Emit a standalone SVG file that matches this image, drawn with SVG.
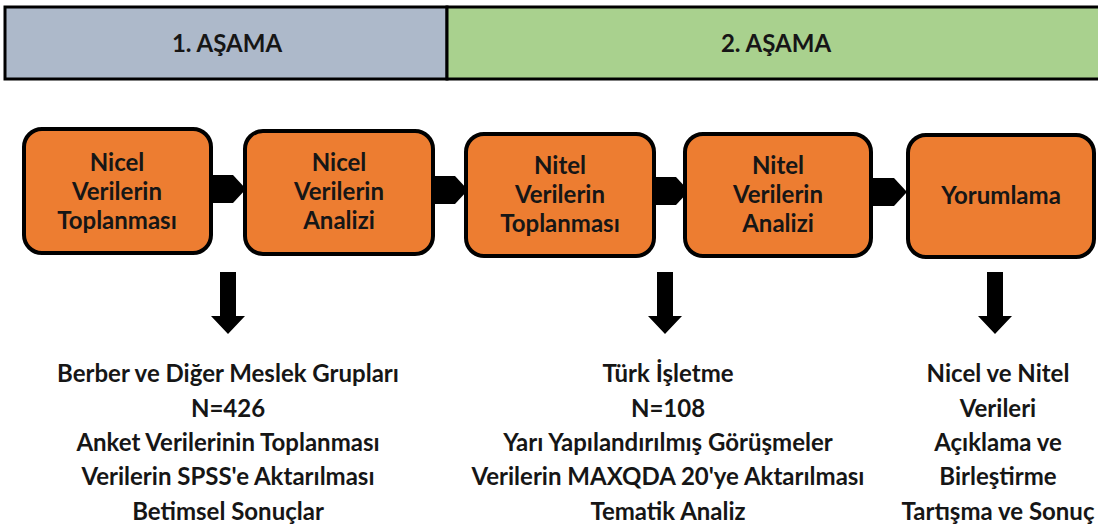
<svg xmlns="http://www.w3.org/2000/svg" width="1098" height="529" viewBox="0 0 1098 529">
<style>
  .t { font-family: Lato, "Liberation Sans", sans-serif; font-weight: bold; fill: #161616; text-anchor: middle; }
  .hdr { font-size: 24px; }
  .box { fill: #ed7d31; stroke: #000; stroke-width: 4; }
  .bt { font-size: 24px; }
  .lt { font-size: 24px; }
  .chev { fill: #000; }
  .down { fill: #000; }
</style>
<defs>
  <polygon id="chev" class="chev" points="0,0 28,0 41,14 28,28 0,28"/>
  <polygon id="down" class="down" points="-8,0 8,0 8,44 17,44 0,62 -17,44 -8,44"/>
</defs>
<rect width="1098" height="529" fill="#fff"/>
<g id="phase1">
  <rect x="5" y="7" width="442" height="72" fill="#adb9ca" stroke="#000" stroke-width="3"/>
  <text class="t hdr" x="227" y="52">1. AŞAMA</text>
</g>
<g id="phase2">
  <rect x="447" y="7" width="660" height="72" fill="#a9d18e" stroke="#000" stroke-width="3"/>
  <text class="t hdr" x="776" y="52">2. AŞAMA</text>
</g>
<g id="connectors">
  <use href="#chev" x="205" y="175"/>
  <use href="#chev" x="427" y="176"/>
  <use href="#chev" x="648" y="177"/>
  <use href="#chev" x="866" y="178"/>
  <use href="#down" x="228" y="272"/>
  <use href="#down" x="665" y="272"/>
  <use href="#down" x="995" y="272"/>
</g>
<g id="n1">
  <rect class="box" x="24" y="129" width="187" height="124" rx="18"/>
  <text class="t bt" x="117" y="171">Nicel</text>
  <text class="t bt" x="117" y="200">Verilerin</text>
  <text class="t bt" x="117" y="229">Toplanması</text>
</g>
<g id="n2">
  <rect class="box" x="245" y="131" width="188" height="123" rx="18"/>
  <text class="t bt" x="339" y="171">Nicel</text>
  <text class="t bt" x="339" y="200">Verilerin</text>
  <text class="t bt" x="339" y="229">Analizi</text>
</g>
<g id="n3">
  <rect class="box" x="466" y="134" width="188" height="122" rx="18"/>
  <text class="t bt" x="560" y="174">Nitel</text>
  <text class="t bt" x="560" y="203">Verilerin</text>
  <text class="t bt" x="560" y="232">Toplanması</text>
</g>
<g id="n4">
  <rect class="box" x="685" y="134" width="186" height="122" rx="18"/>
  <text class="t bt" x="778" y="174">Nitel</text>
  <text class="t bt" x="778" y="203">Verilerin</text>
  <text class="t bt" x="778" y="232">Analizi</text>
</g>
<g id="n5">
  <rect class="box" x="908" y="135" width="186" height="122" rx="18"/>
  <text class="t bt" x="1001" y="204">Yorumlama</text>
</g>
<g id="d1">
  <text class="t lt" x="228" y="382">Berber ve Diğer Meslek Grupları</text>
  <text class="t lt" x="228" y="417">N=426</text>
  <text class="t lt" x="228" y="451">Anket Verilerinin Toplanması</text>
  <text class="t lt" x="228" y="485">Verilerin SPSS'e Aktarılması</text>
  <text class="t lt" x="228" y="520">Betimsel Sonuçlar</text>
</g>
<g id="d2">
  <text class="t lt" x="668" y="382">Türk İşletme</text>
  <text class="t lt" x="668" y="417">N=108</text>
  <text class="t lt" x="668" y="451">Yarı Yapılandırılmış Görüşmeler</text>
  <text class="t lt" x="668" y="485">Verilerin MAXQDA 20'ye Aktarılması</text>
  <text class="t lt" x="668" y="520">Tematik Analiz</text>
</g>
<g id="d3">
  <text class="t lt" x="998" y="382">Nicel ve Nitel</text>
  <text class="t lt" x="998" y="417">Verileri</text>
  <text class="t lt" x="998" y="451">Açıklama ve</text>
  <text class="t lt" x="998" y="485">Birleştirme</text>
  <text class="t lt" x="998" y="520">Tartışma ve Sonuç</text>
</g>
</svg>
